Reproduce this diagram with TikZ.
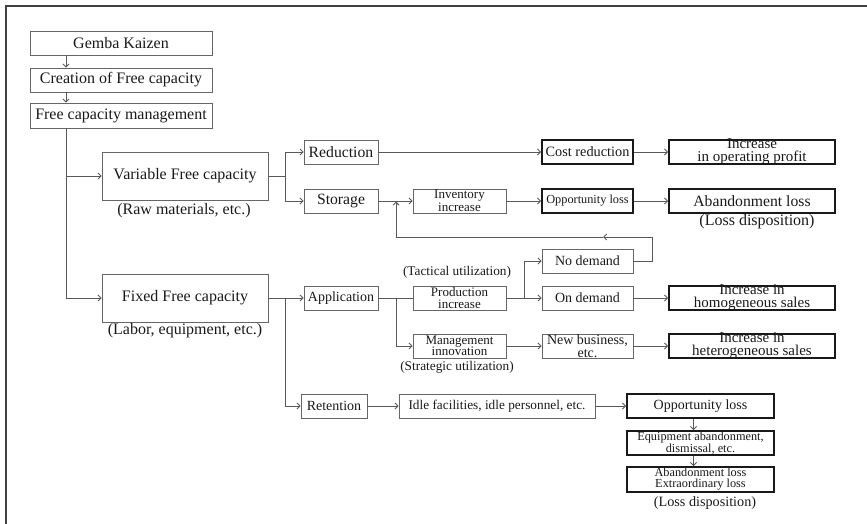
\documentclass[tikz,border=0pt]{standalone}
\usepackage{fontspec}
\setmainfont{Liberation Serif}
\usetikzlibrary{arrows.meta,calc}
\newcommand{\fsz}[2]{\fontsize{#1}{#2}\selectfont}
\tikzset{
  thinbox/.style={draw=black!60, line width=0.9pt, minimum height=24pt, inner sep=0pt, align=center, text=black!90},
  thickbox/.style={draw=black!90, line width=1.8pt, minimum height=24pt, inner sep=0pt, align=center, text=black!90},
  conn/.style={draw=black!65, line width=0.9pt},
  arr/.style={conn, -{Straight Barb[length=3pt,width=6pt]}},
  lbl/.style={inner sep=0pt, text=black!90},
  inlbl/.style={inner sep=0pt, text=black!90, align=center, font=\fsz{15}{12.8}}
}
\begin{document}
\begin{tikzpicture}[x=1pt,y=-1pt]
\useasboundingbox (0,0) rectangle (867,524);
\draw[line width=1.5pt, black!75] (6,524) -- (6,6) -- (867,6);

% left column
\node[thinbox, minimum width=182, font=\fsz{16}{16}] (gk) at (121,43) {Gemba Kaizen};
\node[thinbox, minimum width=182, font=\fsz{16}{16}] (cfc) at (121,80) {Creation of Free capacity};
\node[thinbox, minimum width=182, minimum height=25, font=\fsz{16}{16}] (fcm) at (121,115.5) {Free capacity management};
\node[thinbox, minimum width=166, minimum height=48, font=\fsz{16}{16}] (var) at (185,176) {Variable Free capacity};
\node[thinbox, minimum width=166, minimum height=48, font=\fsz{16}{16}] (fix) at (185,298) {Fixed Free capacity};
\node[lbl, font=\fsz{16}{16}] (rawl) at (184,211) {(Raw materials, etc.)};
\node[lbl, font=\fsz{16}{16}] (labl) at (185,331) {(Labor, equipment, etc.)};

% variable branch
\node[thinbox, minimum width=74, font=\fsz{15.7}{15.7}] (red) at (341,152) {Reduction};
\node[thinbox, minimum width=74, font=\fsz{15.7}{15.7}] (sto) at (341,201) {Storage};
\node[thinbox, minimum width=93, font=\fsz{13}{12.5}] (inv) at (459.5,201) {Inventory\\increase};
\node[thickbox, minimum width=91, font=\fsz{14.3}{14.3}] (costr) at (587.5,152) {Cost reduction};
\node[thickbox, minimum width=91, font=\fsz{12.3}{12.3}] (opl1) at (587.5,201) {Opportunity loss};
\node[thickbox, minimum width=166, label={[inlbl]center:{Increase\\in operating profit}}] (iop) at (752,152) {};
\node[thickbox, minimum width=166, font=\fsz{15.7}{15.7}] (abl1) at (752,201) {Abandonment loss};
\node[lbl, font=\fsz{16}{16}] (ldl1) at (757,222) {(Loss disposition)};

% fixed branch
\node[thinbox, minimum width=74, font=\fsz{14}{14}] (app) at (341,298) {Application};
\node[thinbox, minimum width=93, font=\fsz{13}{11.5}] (prod) at (459.5,298) {Production\\increase};
\node[thinbox, minimum width=93, font=\fsz{13}{11.5}] (mgi) at (459.5,346) {Management\\innovation};
\node[lbl, font=\fsz{13.3}{13.3}] (tact) at (457,272) {(Tactical utilization)};
\node[lbl, font=\fsz{13.3}{13.3}] (strat) at (457,367) {(Strategic utilization)};
\node[thinbox, minimum width=91, font=\fsz{14}{14}] (nod) at (587.5,261) {No demand};
\node[thinbox, minimum width=91, font=\fsz{14}{14}] (ond) at (587.5,298) {On demand};
\node[thinbox, minimum width=91, font=\fsz{14}{13}] (nbe) at (587.5,346) {New business,\\etc.};
\node[thickbox, minimum width=166, label={[inlbl]center:{Increase in\\homogeneous sales}}] (ihom) at (752,298) {};
\node[thickbox, minimum width=166, label={[inlbl]center:{Increase in\\heterogeneous sales}}] (ihet) at (752,346) {};

\node[thinbox, minimum width=66, font=\fsz{14}{14}] (ret) at (334,406) {Retention};
\node[thinbox, minimum width=196, font=\fsz{13.3}{13.3}] (idle) at (497,406) {Idle facilities, idle personnel, etc.};
\node[thickbox, minimum width=147, font=\fsz{14}{14}] (opl2) at (700.5,406) {Opportunity loss};
\node[thickbox, minimum width=147, font=\fsz{12.3}{11.5}] (eqa) at (700.5,443) {Equipment abandonment,\\dismissal, etc.};
\node[thickbox, minimum width=147, minimum height=25, font=\fsz{12.3}{11}] (abx) at (700.5,479.5) {Abandonment loss\\Extraordinary loss};
\node[lbl, font=\fsz{14.2}{14.2}] (ldl2) at (705,503) {(Loss disposition)};

% helper coordinates
\coordinate (spine) at (66,0);
\coordinate (b1) at (285,0);
\coordinate (b2) at (396,0);
\coordinate (b3) at (524,0);
\coordinate (lr) at (652,237);
\coordinate (ll) at (396,237);
\coordinate (lm) at (603,237);

% connectors
\draw[arr] (gk.south -| spine) -- (cfc.north -| spine);
\draw[arr] (cfc.south -| spine) -- (fcm.north -| spine);
\draw[arr] (fcm.south -| spine) |- (fix.west);
\draw[arr] (spine |- var.west) -- (var.west);
\draw[conn] (var.east) -- (b1 |- var.east);
\draw[arr] (b1 |- var.east) |- (red.west);
\draw[arr] (b1 |- var.east) |- (sto.west);
\draw[arr] (red.east) -- (costr.west);
\draw[arr] (sto.east) -- (inv.west);
\draw[arr] (inv.east) -- (opl1.west);
\draw[arr] (costr.east) -- (iop.west);
\draw[arr] (opl1.east) -- (abl1.west);
\draw[arr] (nod.east) -| (lr) -- (lm);
\draw[arr, shorten >=0.5pt] (lm) -- (ll) -- (ll |- sto.east);

\draw[arr] (fix.east) -- (app.west);
\draw[arr] (b1 |- fix.east) |- (ret.west);
\draw[conn] (app.east) -- (prod.west);
\draw[arr] (b2 |- app.east) |- (mgi.west);
\draw[conn] (prod.east) -- (b3 |- prod.east);
\draw[arr] (b3 |- prod.east) |- (nod.west);
\draw[arr] (b3 |- prod.east) -- (ond.west);
\draw[arr] (mgi.east) -- (nbe.west);
\draw[arr] (ond.east) -- (ihom.west);
\draw[arr] (nbe.east) -- (ihet.west);
\draw[arr] (ret.east) -- (idle.west);
\draw[arr] (idle.east) -- (opl2.west);
\draw[arr] ([xshift=-7pt]opl2.south) -- ([xshift=-7pt]eqa.north);
\draw[arr] ([xshift=-7pt]eqa.south) -- ([xshift=-7pt]abx.north);
\end{tikzpicture}
\end{document}
